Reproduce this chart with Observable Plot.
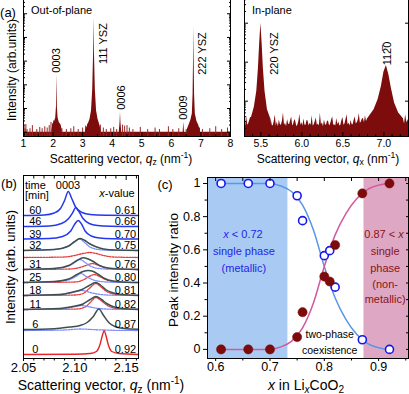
<!DOCTYPE html>
<html><head><meta charset="utf-8">
<script src="https://cdn.jsdelivr.net/npm/d3@7"></script>
<script src="https://cdn.jsdelivr.net/npm/@observablehq/plot@0.6"></script>
<style>
body{margin:0;background:#fff;font-family:"Liberation Sans",Arial,sans-serif;}
#wrap{position:relative;width:409px;height:394px;overflow:hidden;background:#fff;}
#wrap svg{position:absolute;}
.lab{position:absolute;white-space:nowrap;color:#000;transform:translate(-50%,-50%);line-height:1;}
.lft{transform:translate(0,-50%);}
.rot{transform:translate(-50%,-50%) rotate(-90deg);}
sub{font-size:72%;vertical-align:-0.25em;line-height:0;}
sup{font-size:72%;vertical-align:0.55em;line-height:0;}
</style></head><body><div id="wrap"></div>
<script>
// ---------- DATA ----------
// (a) out-of-plane spectrum [q, intensity]
const outFloor = [[1, 1.0], [8, 1.0]];
const outNoise = [[1.02,1.8],[1.05,1.4],[1.08,2.1],[1.12,1.3],[1.22,1.4],[1.3,1.9],[1.45,1.3],[1.55,1.6],[1.63,1.4],[1.72,1.7],[1.8,1.5],[1.87,1.9],[1.93,2.6],[1.98,2.2],[2.02,3.0],[2.24,1.6],[2.3,1.4],[2.45,1.3],[2.6,1.4],[2.7,1.7],[2.85,1.3],[3.0,1.5],[3.1,1.8],[3.17,2.2],[3.6,2.0],[3.7,1.5],[3.8,1.3],[3.95,1.4],[4.05,1.6],[4.15,1.3],[4.35,2.0],[4.42,1.8],[4.5,1.9],[4.58,1.5],[4.7,1.3],[4.95,1.6],[5.2,1.3],[5.45,1.5],[5.6,1.3],[5.9,1.7],[6.05,1.3],[6.25,1.4],[6.5,1.3],[6.95,1.5],[7.05,1.3],[7.3,1.4],[7.5,1.7],[7.7,1.3],[7.9,1.5]];
const peak0003 = [[1.96,1.2],[2.0,2.2],[2.05,2.8],[2.09,4],[2.115,12],[2.13,270],[2.145,12],[2.17,4],[2.21,2.6],[2.27,2],[2.31,1.2]];
const peak111 = [[3.1,1.2],[3.18,2],[3.25,3.5],[3.3,8],[3.34,60],[3.37,2000],[3.385,7e4],[3.40,2000],[3.43,60],[3.47,8],[3.52,3.5],[3.58,2],[3.62,1.2]];
const peak0006 = [[4.24,1.1],[4.265,2.5],[4.28,7],[4.295,2.5],[4.32,1.1]];
const peak0009 = [[6.40,1.1],[6.42,2.6],[6.44,1.1]];
const peak222 = [[6.53,1.2],[6.6,2],[6.66,3.2],[6.71,6],[6.735,40],[6.75,1200],[6.76,2.9e4],[6.77,1200],[6.785,40],[6.81,6],[6.86,3],[6.92,2],[6.98,1.2]];
const outLabels = ["0003", "111 YSZ", "0006", "0009", "222 YSZ"];

// (a) in-plane spectrum
const inNoise = [[5.300,3.0],[5.315,2.3],[5.325,4.2],[5.340,2.4],[5.350,2.6],[5.365,3.3],[5.375,3.8],[5.60,2.8],[5.613,2.2],[5.625,3.6],[5.638,2.4],[5.650,2.3],[5.663,3.0],[5.675,4.4],[5.688,2.3],[5.700,2.9],[5.713,2.2],[5.725,3.3],[5.738,2.5],[5.750,2.4],[5.763,3.1],[5.775,5.0],[5.788,2.4],[5.800,2.7],[5.813,2.2],[5.825,3.4],[5.838,2.6],[5.850,2.5],[5.863,3.2],[5.875,3.9],[5.888,2.3],[5.900,2.6],[5.913,3.4],[5.925,3.0],[5.938,2.2],[5.950,2.4],[5.963,3.0],[5.975,4.6],[5.988,2.4],[6.000,2.8],[6.013,2.3],[6.025,3.5],[6.038,2.4],[6.050,2.4],[6.063,3.2],[6.075,3.1],[6.088,2.3],[6.100,2.7],[6.113,2.4],[6.125,4.2],[6.138,2.3],[6.150,2.5],[6.163,3.0],[6.175,3.7],[6.188,2.4],[6.200,2.6],[6.213,2.3],[6.225,4.9],[6.238,2.5],[6.250,2.8],[6.263,2.2],[6.275,3.3],[6.288,2.5],[6.300,2.4],[6.313,3.1],[6.325,3.0],[6.338,2.3],[6.350,2.6],[6.363,3.3],[6.375,4.0],[6.388,2.4],[6.400,2.5],[6.413,2.3],[6.425,3.6],[6.438,2.5],[6.450,2.9],[6.463,2.3],[6.475,2.4],[6.488,3.2],[6.500,3.8],[6.513,2.4],[6.525,2.6],[6.538,3.4],[6.550,4.5],[6.563,2.5],[6.575,2.7],[6.588,2.3],[6.600,3.2],[6.613,2.5],[6.625,2.5],[6.638,3.3],[6.650,3.9],[6.663,2.6],[6.675,2.8],[6.688,3.3],[6.700,4.8],[6.713,2.7],[6.725,2.9],[6.738,3.5],[6.750,3.6],[6.763,2.8],[6.775,4.2],[6.788,3.0],[6.800,3.5],[7.240,3.3],[7.252,2.6],[7.265,4.5],[7.280,2.8],[7.300,3.4]];
const peak220 = [[5.38,3.5],[5.42,7],[5.45,18],[5.47,70],[5.485,300],[5.50,1000],[5.515,300],[5.53,70],[5.55,18],[5.58,6],[5.62,3.5]];
const peak1120 = [[6.8,3.5],[6.88,6],[6.93,11],[6.97,24],[7.0,55],[7.03,82],[7.06,48],[7.09,22],[7.13,9],[7.18,5],[7.24,3.5]];
const inLabels = ["220 YSZ", "112\u03050"];

// (b) stacked 0003 profiles
const times = [60, 46, 39, 32, 31, 25, 18, 11, 6, 0];
const xValues = ["0.61","0.66","0.70","0.75","0.76","0.80","0.81","0.82","0.87","0.92"];
const baselines = [143, 132, 119.5, 108, 89, 76, 63, 49, 29, 4];
const measured = [
 [[2.05,0],[2.07,0.5],[2.08,2.5],[2.086,7],[2.09,15],[2.0936,24],[2.097,17],[2.101,8],[2.107,3],[2.115,1],[2.13,0.3],[2.162,0]],
 [[2.05,0],[2.075,0.5],[2.087,3],[2.094,8],[2.098,14],[2.101,19],[2.104,15],[2.108,8],[2.114,3],[2.122,1],[2.135,0.3],[2.162,0]],
 [[2.05,0],[2.075,0.4],[2.088,2.5],[2.096,8],[2.1,15],[2.1032,18.5],[2.1065,15],[2.11,8],[2.116,3],[2.124,1],[2.137,0.3],[2.162,0]],
 [[2.05,0],[2.08,1],[2.093,4],[2.1,9],[2.1048,12],[2.109,10.5],[2.114,7],[2.12,4],[2.128,1.5],[2.14,0.4],[2.162,0]],
 [[2.05,0],[2.08,1],[2.094,4],[2.102,9],[2.108,11.7],[2.113,10.5],[2.118,8],[2.124,4],[2.132,1.5],[2.145,0.4],[2.162,0]],
 [[2.05,0],[2.08,1],[2.094,3.5],[2.102,8],[2.108,11],[2.113,12],[2.118,11],[2.123,8],[2.129,4],[2.137,1.5],[2.15,0.3],[2.162,0]],
 [[2.05,0],[2.085,1],[2.098,3.5],[2.107,6],[2.114,10],[2.12,13],[2.125,10.5],[2.13,6],[2.136,3],[2.145,1],[2.162,0.2]],
 [[2.05,0],[2.085,1],[2.098,3],[2.108,5.5],[2.115,10],[2.1205,13],[2.126,10],[2.131,6],[2.137,3],[2.146,1],[2.162,0.2]],
 [[2.05,0],[2.08,0.8],[2.095,2.5],[2.105,4],[2.112,7],[2.118,13],[2.1234,20.5],[2.128,14],[2.133,7],[2.139,3],[2.148,1],[2.162,0.3]],
 [[2.05,0],[2.1,0.3],[2.115,1],[2.121,3],[2.1245,10],[2.1268,19],[2.1285,23.7],[2.1303,19],[2.1325,10],[2.136,3],[2.143,1],[2.162,0]]
];
const measuredKind = ["metal","metal","metal","sum","sum","sum","sum","sum","sum","insul"];
const blueComps = [null,null,null,
 [[2.05,0],[2.08,1],[2.093,4],[2.1,9],[2.1045,11.5],[2.109,8.5],[2.114,4],[2.12,1.5],[2.13,0.4],[2.162,0]],
 [[2.05,0],[2.08,1],[2.094,3.5],[2.1,7],[2.105,10],[2.11,7],[2.115,3.5],[2.122,1.2],[2.135,0.3],[2.162,0]],
 [[2.05,0],[2.08,0.8],[2.095,3],[2.101,6],[2.106,9],[2.111,6],[2.117,3],[2.125,1],[2.14,0.2],[2.162,0]],
 [[2.05,0],[2.085,0.8],[2.098,3],[2.107,5],[2.115,3],[2.125,1],[2.14,0.2],[2.162,0]],
 [[2.05,0],[2.085,0.6],[2.098,2.5],[2.107,4],[2.115,2.5],[2.125,0.8],[2.14,0.2],[2.162,0]],
 [[2.05,0],[2.09,0.5],[2.105,1.5],[2.12,0.8],[2.14,0.2],[2.162,0]],
 null];
const blueBase = [null,null,null,108,89,76,63,49,28,null];
const redComps = [null,null,null,
 [[2.05,0],[2.09,0.5],[2.1,2],[2.108,4],[2.1145,5],[2.121,4],[2.128,2],[2.138,0.5],[2.162,0]],
 [[2.05,0],[2.095,0.5],[2.105,2],[2.112,4.5],[2.117,6],[2.122,4.5],[2.129,2],[2.14,0.5],[2.162,0]],
 [[2.05,0],[2.1,0.5],[2.108,2.5],[2.114,6],[2.119,8],[2.124,6],[2.131,2.5],[2.142,0.6],[2.162,0]],
 [[2.05,0],[2.1,0.5],[2.108,2],[2.114,7],[2.1205,12],[2.126,8],[2.131,4],[2.138,1.5],[2.15,0.3],[2.162,0]],
 [[2.05,0],[2.102,0.5],[2.11,2.5],[2.115,7],[2.1205,12],[2.126,8.5],[2.131,4.5],[2.138,1.5],[2.15,0.3],[2.162,0]],
 null,null];
const redBase = [null,null,null,101,89,76,63,49,null,null];

// (c) peak intensity ratio
const xLi = [0.61,0.66,0.70,0.75,0.76,0.80,0.81,0.82,0.87,0.92];
const metallicRatio = [1,1,1,0.926,0.776,0.565,0.595,0.375,0.058,0];
const insulRatio = [0,0,0,0.074,0.224,0.439,0.409,0.629,0.94,1.0];
const fitX = [0.61,0.70,0.72,0.74,0.76,0.78,0.80,0.82,0.84,0.86,0.88,0.90,0.92];
const metallicFit = [1,1,0.985,0.95,0.87,0.72,0.5,0.31,0.18,0.09,0.035,0.01,0];
const insulFit = [0,0,0.015,0.05,0.13,0.28,0.5,0.69,0.82,0.91,0.965,0.99,1];
const phaseBounds = [0.733, 0.873];

// ---------- DRAW ----------
const wrap = document.getElementById("wrap");
const DR = "#7d0c0c";
const FONT = '"Liberation Sans", Arial, sans-serif';
function place(svg, left, top) { svg.style.left = left + "px"; svg.style.top = top + "px"; wrap.appendChild(svg); }
function st(fs) { return {background: "transparent", overflow: "visible", fontFamily: FONT, fontSize: fs + "px", color: "#000"}; }
const none = () => "";
const X0 = d => d[0], Y1 = d => d[1];

function logMinor(lo, hi) { const out = []; for (let e = Math.floor(Math.log10(lo)); e <= Math.ceil(Math.log10(hi)); e++) for (let k = 2; k <= 9; k++) { const v = k * 10 ** e; if (v > lo && v < hi) out.push(v); } return out; }

// (a) left
{
  const ymin = 0.66, ymax = 4.4e5;
  const svg = Plot.plot({
    width: 240, height: 150, marginLeft: 23, marginRight: 10, marginTop: -2, marginBottom: 14,
    style: st(10.5),
    x: {domain: [1, 8]},
    y: {type: "log", domain: [ymin, ymax]},
    marks: [
      Plot.areaY(outFloor, {x: X0, y1: ymin, y2: Y1, fill: DR}),
      Plot.ruleX(outNoise, {x: X0, y1: ymin, y2: Y1, stroke: "#9a2626", strokeWidth: 1}),
      ...[peak0003, peak111, peak0006, peak0009, peak222].map(p => Plot.areaY(p, {x: X0, y1: ymin, y2: Y1, fill: DR})),
      Plot.text(outLabels, {x: [2.13, 3.705, 4.31, 6.41, 7.05], y: [1070, 5500, 29, 11, 2100], text: d => d, rotate: -90, fontSize: 11, fill: "#000"}),
      Plot.frame({stroke: "#000"}),
      Plot.axisY({anchor: "left", ticks: [1,10,100,1e3,1e4,1e5], tickSize: 4, dx: 4, tickFormat: none, label: null}),
      Plot.axisY({anchor: "left", ticks: logMinor(ymin, ymax), tickSize: 2, dx: 2, tickFormat: none, label: null}),
      Plot.axisY({anchor: "right", ticks: [1,10,100,1e3,1e4,1e5], tickSize: 4, dx: -4, tickFormat: none, label: null}),
      Plot.axisY({anchor: "right", ticks: logMinor(ymin, ymax), tickSize: 2, dx: -2, tickFormat: none, label: null}),
      Plot.axisX({ticks: [1,2,3,4,5,6,7,8], tickSize: 4, dy: -4, tickFormat: none, label: null}),
      Plot.axisX({ticks: [1.5,2.5,3.5,4.5,5.5,6.5,7.5], tickSize: 2, dy: -2, tickFormat: none, label: null}),
      Plot.axisX({ticks: [1,2,3,4,5,6,7,8], tickSize: 0, tickPadding: 3, tickFormat: d => String(d), label: null})
    ]
  });
  place(svg, 0, 0);
}
// (a) right
{
  const ymin = 1.24, ymax = 4300;
  const svg = Plot.plot({
    width: 173, height: 150, marginLeft: 8, marginRight: 1, marginTop: -2, marginBottom: 14,
    style: st(10.5),
    x: {domain: [5.3, 7.3]},
    y: {type: "log", domain: [ymin, ymax]},
    marks: [
      Plot.areaY(inNoise, {x: X0, y1: ymin, y2: Y1, fill: DR}),
      Plot.areaY(peak220, {x: X0, y1: ymin, y2: Y1, fill: DR}),
      Plot.areaY(peak1120, {x: X0, y1: ymin, y2: Y1, fill: DR}),
      Plot.text(inLabels, {x: [5.67, 7.04], y: [167, 167], text: d => d, rotate: -90, fontSize: 11, fill: "#000"}),
      Plot.frame({stroke: "#000"}),
      Plot.axisY({anchor: "left", ticks: [10,100,1000], tickSize: 4, dx: 4, tickFormat: none, label: null}),
      Plot.axisY({anchor: "left", ticks: logMinor(ymin, ymax), tickSize: 2, dx: 2, tickFormat: none, label: null}),
      Plot.axisY({anchor: "right", ticks: [10,100,1000], tickSize: 4, dx: -4, tickFormat: none, label: null}),
      Plot.axisX({ticks: [5.5,6,6.5,7], tickSize: 4, dy: -4, tickFormat: none, label: null}),
      Plot.axisX({ticks: [5.4,5.6,5.7,5.8,5.9,6.1,6.2,6.3,6.4,6.6,6.7,6.8,6.9,7.1,7.2], tickSize: 2, dy: -2, tickFormat: none, label: null}),
      Plot.axisX({ticks: [5.5,6,6.5,7], tickSize: 0, tickPadding: 3, tickFormat: d3.format(".1f"), label: null})
    ]
  });
  place(svg, 236, 0);
}
// (b)
{
  const rows = [];
  const add = (pts, base, id, kind) => pts.forEach(([q, h]) => rows.push({q, y: base + h, id, kind}));
  measured.forEach((pts, i) => add(pts, baselines[i], "m" + i, measuredKind[i]));
  blueComps.forEach((pts, i) => pts && add(pts, blueBase[i], "b" + i, "bcomp"));
  redComps.forEach((pts, i) => pts && add(pts, redBase[i], "r" + i, "rcomp"));
  const sel = k => rows.filter(r => r.kind === k);
  const lineOpts = (stroke, extra) => ({x: "q", y: "y", z: "id", stroke, curve: "monotone-x", ...extra});
  const minor = [2.06,2.07,2.08,2.09,2.11,2.12,2.13,2.14,2.16];
  const svg = Plot.plot({
    width: 145, height: 210, marginLeft: 23, marginRight: 7, marginTop: 5, marginBottom: 22,
    style: st(13),
    x: {domain: [2.05, 2.162]},
    y: {domain: [0, 183], axis: null},
    marks: [
      Plot.line(sel("rcomp"), lineOpts("#e63a3a", {strokeWidth: 1.3, strokeDasharray: "1.6,1.2"})),
      Plot.line(sel("bcomp"), lineOpts("#7b8cff", {strokeWidth: 1.3, strokeDasharray: "1.6,1.2"})),
      Plot.line(sel("metal"), lineOpts("#2438f0", {strokeWidth: 1.5})),
      Plot.line(sel("sum"), lineOpts("#3e4f50", {strokeWidth: 1.5})),
      Plot.line(sel("insul"), lineOpts("#e8222a", {strokeWidth: 1.4})),
      Plot.text(times, {x: 2.0615, y: (d, i) => baselines[i] + 5, text: d => String(d), fontSize: 11, fill: "#000"}),
      Plot.text(xValues, {x: 2.1597, y: (d, i) => baselines[i] + 5, text: d => d, textAnchor: "end", fontSize: 11, fill: "#000"}),
      Plot.frame({stroke: "#000"}),
      Plot.axisX({anchor: "top", ticks: [2.05,2.1,2.15], tickSize: 4, dy: 4, tickFormat: none, label: null}),
      Plot.axisX({anchor: "top", ticks: minor, tickSize: 2.5, dy: 2.5, tickFormat: none, label: null}),
      Plot.axisX({ticks: minor, tickSize: 2.5, tickFormat: none, label: null}),
      Plot.axisX({ticks: [2.05,2.1,2.15], tickSize: 3, tickPadding: 1, tickFormat: d3.format(".2f"), label: null})
    ]
  });
  place(svg, 0, 170);
}
// (c)
{
  const pts = xLi.map((x, i) => ({x, m: metallicRatio[i], n: insulRatio[i]}));
  const fit = fitX.map((x, i) => ({x, m: metallicFit[i], n: insulFit[i]}));
  const svg = Plot.plot({
    width: 239, height: 210, marginLeft: 37, marginRight: 1, marginTop: 7, marginBottom: 22,
    style: st(12.5),
    x: {domain: [0.585, 0.955]},
    y: {domain: [-0.055, 1.036]},
    marks: [
      Plot.rect([[0.585, phaseBounds[0]]], {x1: X0, x2: Y1, y1: -0.055, y2: 1.036, fill: "#a9cbf3"}),
      Plot.rect([[phaseBounds[1], 0.955]], {x1: X0, x2: Y1, y1: -0.055, y2: 1.036, fill: "#dea8c5"}),
      Plot.line(fit, {x: "x", y: "m", stroke: "#5a96e6", strokeWidth: 1.5, curve: "monotone-x"}),
      Plot.line(fit, {x: "x", y: "n", stroke: "#cf5a9d", strokeWidth: 1.5, curve: "monotone-x"}),
      Plot.dot(pts, {x: "x", y: "m", r: 4, fill: "#fff", stroke: "#1616f0", strokeWidth: 1.6}),
      Plot.dot(pts, {x: "x", y: "n", r: 4.6, fill: "#7c0b0b", stroke: "#7c0b0b", strokeWidth: 0.5}),
      Plot.text(["single phase", "(metallic)"], {x: 0.652, y: [0.59, 0.49], text: d => d, fill: "#2424e8", fontSize: 11}),
      Plot.text(["single", "phase", "(non-", "metallic)"], {x: 0.912, y: [0.59, 0.49, 0.39, 0.30], text: d => d, fill: "#8a1414", fontSize: 11}),
      Plot.text(["two-phase", "coexistence"], {x: 0.81, y: [0.09, -0.006], text: d => d, fill: "#000", fontSize: 10.5}),
      Plot.frame({stroke: "#000"}),
      Plot.axisY({ticks: [0,0.2,0.4,0.6,0.8,1], tickSize: 4, tickPadding: 3, tickFormat: d => String(d), label: null}),
      Plot.axisY({ticks: [0.1,0.3,0.5,0.7,0.9], tickSize: 2.5, tickFormat: none, label: null}),
      Plot.axisY({anchor: "right", ticks: [0,0.1,0.2,0.3,0.4,0.5,0.6,0.7,0.8,0.9,1], tickSize: 3, dx: -3, tickFormat: none, label: null}),
      Plot.axisX({anchor: "top", ticks: [0.6,0.65,0.7,0.75,0.8,0.85,0.9,0.95], tickSize: 3, dy: 3, tickFormat: none, label: null}),
      Plot.axisX({ticks: [0.65,0.75,0.85,0.95], tickSize: 2.5, tickFormat: none, label: null}),
      Plot.axisX({ticks: [0.6,0.7,0.8,0.9], tickSize: 3, tickPadding: 1, tickFormat: d => String(d), label: null})
    ]
  });
  place(svg, 170, 170);
}

// ---------- HTML labels ----------
function lab(html, x, y, fs, cls = "", color = "#000") {
  const d = document.createElement("div");
  d.className = "lab " + cls; d.innerHTML = html;
  d.style.left = x + "px"; d.style.top = y + "px"; d.style.fontSize = fs + "px"; d.style.color = color;
  wrap.appendChild(d);
}
lab("(a)", 8, 12, 13);
lab("Out-of-plane", 31, 10, 11, "lft");
lab("In-plane", 252, 10, 11, "lft");
lab("Intensity (arb.units)", 12, 70, 12, "rot");
lab("Scattering vector, <i>q</i><sub>z</sub> (nm<sup>-1</sup>)", 121, 159, 12);
lab("Scattering vector, <i>q</i><sub>x</sub> (nm<sup>-1</sup>)", 328, 159, 12);
lab("(b)", 9, 183, 13);
lab("Intensity (arb. units)", 10, 267, 13, "rot");
lab("Scattering vector, <i>q</i><sub>z</sub> (nm<sup>-1</sup>)", 101, 385, 14);
lab("time", 25, 184.5, 11, "lft");
lab("[min]", 25, 195, 11, "lft");
lab("0003", 68, 184.5, 11);
lab("<i>x</i>-value", 117, 192.5, 11);
lab("(c)", 165, 184, 13);
lab("Peak intensity ratio", 174, 270, 13.5, "rot");
lab("<i>x</i> in Li<sub><i>x</i></sub>CoO<sub>2</sub>", 306, 385, 14);
lab("<i>x</i> &lt; 0.72", 243, 234, 11, "", "#2424e8");
lab("0.87 &lt; <i>x</i>", 384, 234, 11, "", "#8a1414");
</script></body></html>
